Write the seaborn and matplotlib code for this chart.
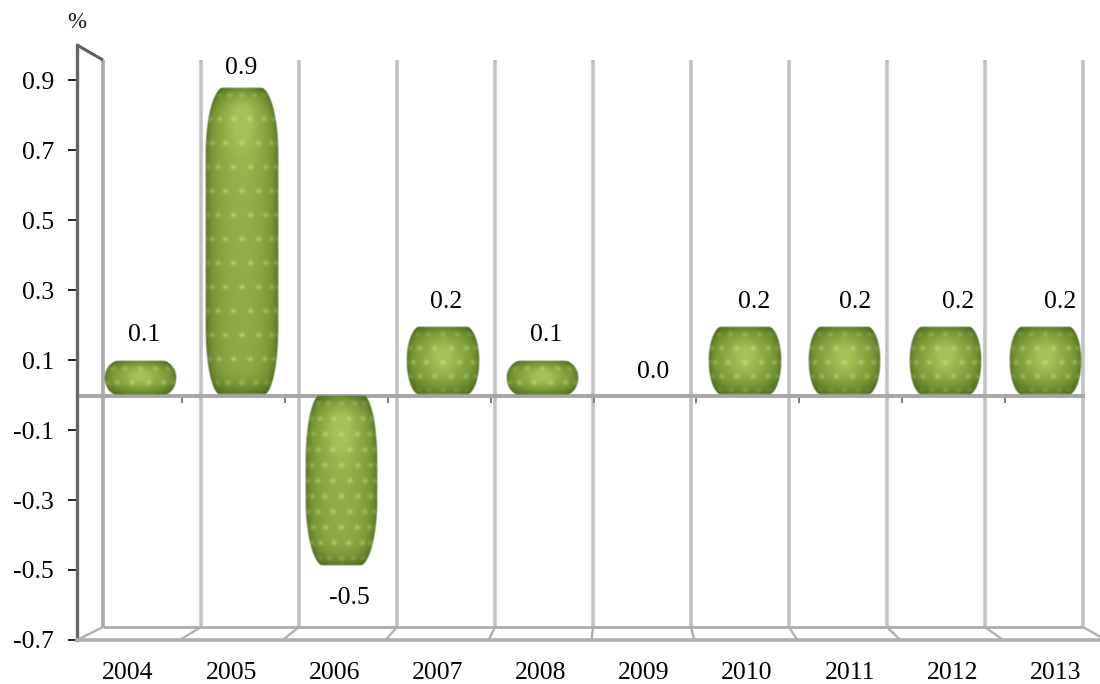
import numpy as np
import pandas as pd
import matplotlib
matplotlib.use("Agg")
import matplotlib.pyplot as plt
from matplotlib.lines import Line2D
from matplotlib.colors import to_rgb
import seaborn as sns

years = ["2004", "2005", "2006", "2007", "2008", "2009", "2010", "2011", "2012", "2013"]
values = [0.1, 0.9, -0.5, 0.2, 0.1, 0.0, 0.2, 0.2, 0.2, 0.2]
y_ticks = [0.9, 0.7, 0.5, 0.3, 0.1, -0.1, -0.3, -0.5, -0.7]

# label nudges in pixels, relative to the end of each bar
label_dx = [3.5, 0, 7.5, 3.5, 3.5, 9.5, 10.5, 10, 12.5, 14]
label_dy = [26, 19, -32, 25, 26, 23, 25, 25, 25, 25]

W, H = 1100, 684
sns.set_theme(style="white")
plt.rcParams["font.family"] = ["Liberation Serif", "DejaVu Serif"]

fig = plt.figure(figsize=(W / 100, H / 100), dpi=100, facecolor="white")
rect = [77 / W, (H - 640) / H, (W - 77) / W, 595 / H]


def px(x, y):
    """Pixel position (origin top left) to figure fraction."""
    return x / W, 1 - y / H


def wall_line(x0, y0, x1, y1, color="#bdbdbd", lw=2.0, z=1):
    (a, b), (c, d) = px(x0, y0), px(x1, y1)
    fig.add_artist(Line2D([a, c], [b, d], transform=fig.transFigure, color=color,
                          lw=lw, zorder=z, solid_capstyle="butt"))


# Front axis: value ticks on the left, year labels along the floor
ax = fig.add_axes(rect, facecolor="none", zorder=3)
ax.set_ylim(-0.7, 1.0)
ax.set_xlim((77 - 128) / 103.1, (W - 128) / 103.1)
ax.set_xticks(range(len(years)), years)
ax.set_yticks(y_ticks, [f"{t:.1f}" for t in y_ticks])
ax.tick_params(axis="y", length=6.5, width=1.3, color="#111111", pad=10,
               labelsize=18.5, labelcolor="black", left=True)
ax.tick_params(axis="x", length=0, pad=16, labelsize=18.5, labelcolor="black")
for side in ("top", "right"):
    ax.spines[side].set_visible(False)
ax.spines["left"].set_color("#666666")
ax.spines["left"].set_linewidth(2.4)
ax.spines["bottom"].set_color("#b0b0b0")
ax.spines["bottom"].set_linewidth(2.6)
fig.text(*px(77, 23), "%", fontsize=16.5, ha="center", va="center", color="#111111")

# Back wall, side wall and floor of the box
n = len(years)
for i in range(n + 1):
    bx = 103 + 98 * i
    fx = 77 + 102.9 * i
    color = "#a8a8a8" if i == 0 else "#c2c2c2"
    wall_line(bx, 60, bx, 627, color=color, lw=2.6)
    wall_line(bx, 627, fx, 640, color="#b0b0b0", lw=1.7)
    if 0 < i < n:
        wall_line(fx + 2, 397, fx + 2, 403, color="#7d7d7d", lw=1.4, z=2)
wall_line(103, 627, 1083, 627, color="#adadad", lw=2.0)
wall_line(77, 45, 103, 60, color="#5f5f5f", lw=2.2)
wall_line(77, 396, 1085, 396, color="#a6a6a6", lw=2.8, z=2)

# Bars sit mid-depth in the box, so they have their own slightly tighter scale
bar_ax = fig.add_axes(rect, facecolor="none", zorder=4)
frame = pd.DataFrame({"year": years, "value": values})
sns.barplot(data=frame, x="year", y="value", color="#7fa03c", width=73 / 100.6,
            ax=bar_ax, saturation=1, errorbar=None)
x_lim = ((77 - 140.5) / 100.6, (W - 140.5) / 100.6)
y_lim = ((395 - 640) / 342, (395 - 45) / 342)
bar_ax.set_axis_off()

dark, mid, light, dot = (np.array(to_rgb(c)) for c in ("#405a18", "#759735", "#a3c357", "#cfe58c"))


def end_profile(s, length):
    t = np.clip(s / length, 0, 1)
    return np.sqrt(np.clip(1 - (1 - t) ** 2, 0, 1))


def barrel_texture(h_px, half_width, tip_on_top):
    """RGBA image of a rounded, dimpled barrel lit from above."""
    hh, ww = int(round(h_px * 2)), int(round(half_width * 4))
    y = (np.arange(hh) + 0.5) / 2
    x = (np.arange(ww) + 0.5) / 2 - half_width
    xx, yy = np.meshgrid(x, y)
    s_top, s_bot = yy, h_px - yy
    cap = min(h_px / 2, 66)
    if h_px > 100:
        tip, base = 0.5, 0.6
    elif h_px > 50:
        tip, base = 0.62, 0.64
    else:
        tip, base = 0.55, 0.62
    top_flat, bot_flat = (tip, base) if tip_on_top else (base, tip)
    top_shape = top_flat + (1 - top_flat) * end_profile(s_top, cap)
    bot_shape = bot_flat + (1 - bot_flat) * end_profile(s_bot, cap)
    shape = np.where(s_top < s_bot, top_shape, bot_shape)
    w = half_width * shape
    u = np.clip(xx / w, -0.999, 0.999)
    round_x = np.sqrt(1 - u ** 2)
    t_end = np.clip(np.minimum(s_top, s_bot) / min(cap, 30), 0, 1)
    round_y = t_end * (2 - t_end)

    # edges fall off to dark olive, with a small soft highlight high on the centre line
    lum = round_x ** 0.9 * (0.3 + 0.7 * round_y) * (1 - 0.15 * yy / h_px)
    glow = np.exp(-(xx / 13) ** 2 - ((yy - min(34, h_px * 0.45)) / min(30, h_px * 0.28)) ** 2)
    lum = np.clip(lum * 0.85 + 0.26 * glow, 0, 1)[..., None]
    rgb = np.where(lum < 0.5, dark + (mid - dark) * lum / 0.5,
                   mid + (light - mid) * (lum - 0.5) / 0.5)

    # staggered dimples wrapped around the curved surface
    step_y, step_a = np.clip(h_px / 11, 14, 24), np.radians(27)
    row = np.round((yy - 8) / step_y)
    dy = yy - 8 - row * step_y
    angle = np.arcsin(u)
    offset = (row % 2) * step_a / 2
    col = np.round((angle - offset) / step_a)
    dx = w * (np.sin(angle) - np.sin(col * step_a + offset))
    spots = np.exp(-(dx / 2.6) ** 2 - (dy / 2.5) ** 2) * (0.05 + 0.55 * round_x) * (0.15 + 0.85 * round_y)
    rgb = rgb + (dot - rgb) * spots[..., None]

    alpha = np.clip((w - np.abs(xx)) / 1.5, 0, 1) * np.clip(np.minimum(s_top, s_bot) / 1.5, 0, 1)
    return np.dstack([np.clip(rgb, 0, 1), alpha])


for i, (patch, value) in enumerate(zip(bar_ax.patches, values)):
    patch.set_visible(False)
    left, width = patch.get_x(), patch.get_width()
    if value != 0:
        low, high = sorted((0, patch.get_height()))
        img = barrel_texture((high - low) * 342, width * 100.6 / 2, value > 0)
        bar_ax.imshow(img, extent=(left, left + width, low, high), origin="upper",
                      aspect="auto", interpolation="bilinear", zorder=3)
    bar_ax.annotate(f"{value:.1f}", xy=(i, value), xytext=(label_dx[i] * 0.72, label_dy[i] * 0.72),
                    textcoords="offset points", ha="center", va="center",
                    fontsize=18.5, color="black", zorder=5)

bar_ax.set_xlim(*x_lim)
bar_ax.set_ylim(*y_lim)

fig.savefig("out.png", dpi=100, facecolor="white")
